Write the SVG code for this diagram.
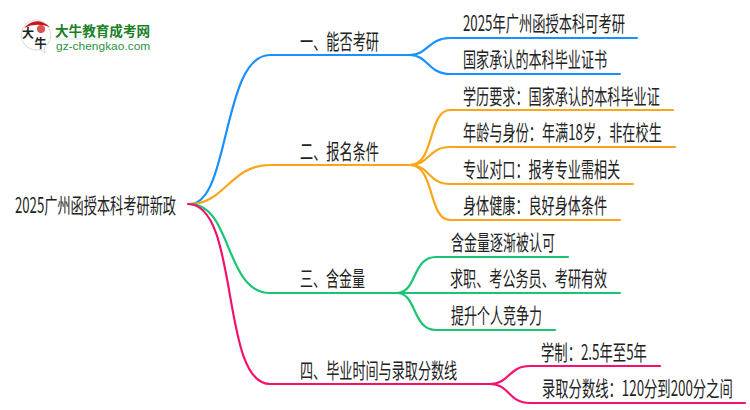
<svg xmlns="http://www.w3.org/2000/svg" width="750" height="410" viewBox="0 0 750 410">
<style>
text{font-family:"Noto Sans CJK SC","Noto Sans",sans-serif;fill:#222;font-size:21px}
.c{fill:none;stroke-width:2.2;stroke-linecap:round}
.b{stroke:#1890ff}.o{stroke:#faa61a}.g{stroke:#19c472}.p{stroke:#f5106e}
text.lg{fill:#1a8028;font-weight:700;font-size:13.6px}
text.lu{fill:#2a9440;font-family:"Liberation Sans",sans-serif;font-size:11.5px}
text.ll{font-size:12px;fill:#222;font-weight:700}
</style>
<rect width="750" height="410" fill="#fff"/>
<g id="logo">
<path d="M37 20A15 15 0 1 0 40 49.500L45 53L44 47.500A15 15 0 0 0 37 20Z" fill="#fff" stroke="#d8d8d8" stroke-width="1"/>
<path d="M24 28Q36 15 50 27Q36 22 24 28Z" fill="#c8161d"/>
<circle cx="41" cy="29" r="4" fill="#d9534f"/>
<text class="ll" x="22" y="38">大</text>
<text class="ll" x="34.500" y="48">牛</text>
<text class="lg" x="55" y="36">大牛教育成考网</text>
<path d="M55 39H150" stroke="#dcebdc" stroke-width="1"/>
<text class="lu" transform="translate(56 50) scale(1.04 1)">gz-chengkao.com</text>
</g>
<g id="connectors">
<path class="c b" d="M190 204C230 204 222 55 270 55H410C428 55 428 38 450 38H637"/>
<path class="c b" d="M410 55C428 55 428 74 450 74H620"/>
<path class="c o" d="M190 204C225 204 230 165 270 165H410C435 165 428 110 450 110H673"/>
<path class="c o" d="M410 165C430 165 428 147 450 147H675"/>
<path class="c o" d="M410 165C430 165 428 184 450 184H633"/>
<path class="c o" d="M410 165C435 165 428 220 450 220H620"/>
<path class="c g" d="M190 204C232 204 225 293 270 293H397C417 293 412 257 436 257H568"/>
<path class="c g" d="M397 293H620"/>
<path class="c g" d="M397 293C417 293 412 330 436 330H555"/>
<path class="c p" d="M188 204C240 204 220 384 270 384H490C510 384 508 366 530 366H660"/>
<path class="c p" d="M490 384C510 384 508 403 530 403H745"/>
</g>
<g id="root"><text transform="translate(15 213) scale(.628 1)">2025广州函授本科考研新政</text></g>
<g id="n1"><text transform="translate(300 49) scale(.627 1)">一、能否考研</text></g>
<g id="n2"><text transform="translate(300 159) scale(.627 1)">二、报名条件</text></g>
<g id="n3"><text transform="translate(300 286) scale(.619 1)">三、含金量</text></g>
<g id="n4"><text transform="translate(300 378) scale(.624 1)">四、毕业时间与录取分数线</text></g>
<g id="n11"><text transform="translate(463 31) scale(.632 1)">2025年广州函授本科可考研</text></g>
<g id="n12"><text transform="translate(463 67) scale(.624 1)">国家承认的本科毕业证书</text></g>
<g id="n21"><text transform="translate(463 104) scale(.625 1)">学历要求：国家承认的本科毕业证</text></g>
<g id="n22"><text transform="translate(463 140) scale(.627 1)">年龄与身份：年满18岁，非在校生</text></g>
<g id="n23"><text transform="translate(463 177) scale(.624 1)">专业对口：报考专业需相关</text></g>
<g id="n24"><text transform="translate(463 213) scale(.624 1)">身体健康：良好身体条件</text></g>
<g id="n31"><text transform="translate(451 250) scale(.619 1)">含金量逐渐被认可</text></g>
<g id="n32"><text transform="translate(450 286) scale(.624 1)">求职、考公务员、考研有效</text></g>
<g id="n33"><text transform="translate(451 323) scale(.619 1)">提升个人竞争力</text></g>
<g id="n41"><text transform="translate(541 360) scale(.635 1)">学制：2.5年至5年</text></g>
<g id="n42"><text transform="translate(542 396) scale(.634 1)">录取分数线：120分到200分之间</text></g>
</svg>
